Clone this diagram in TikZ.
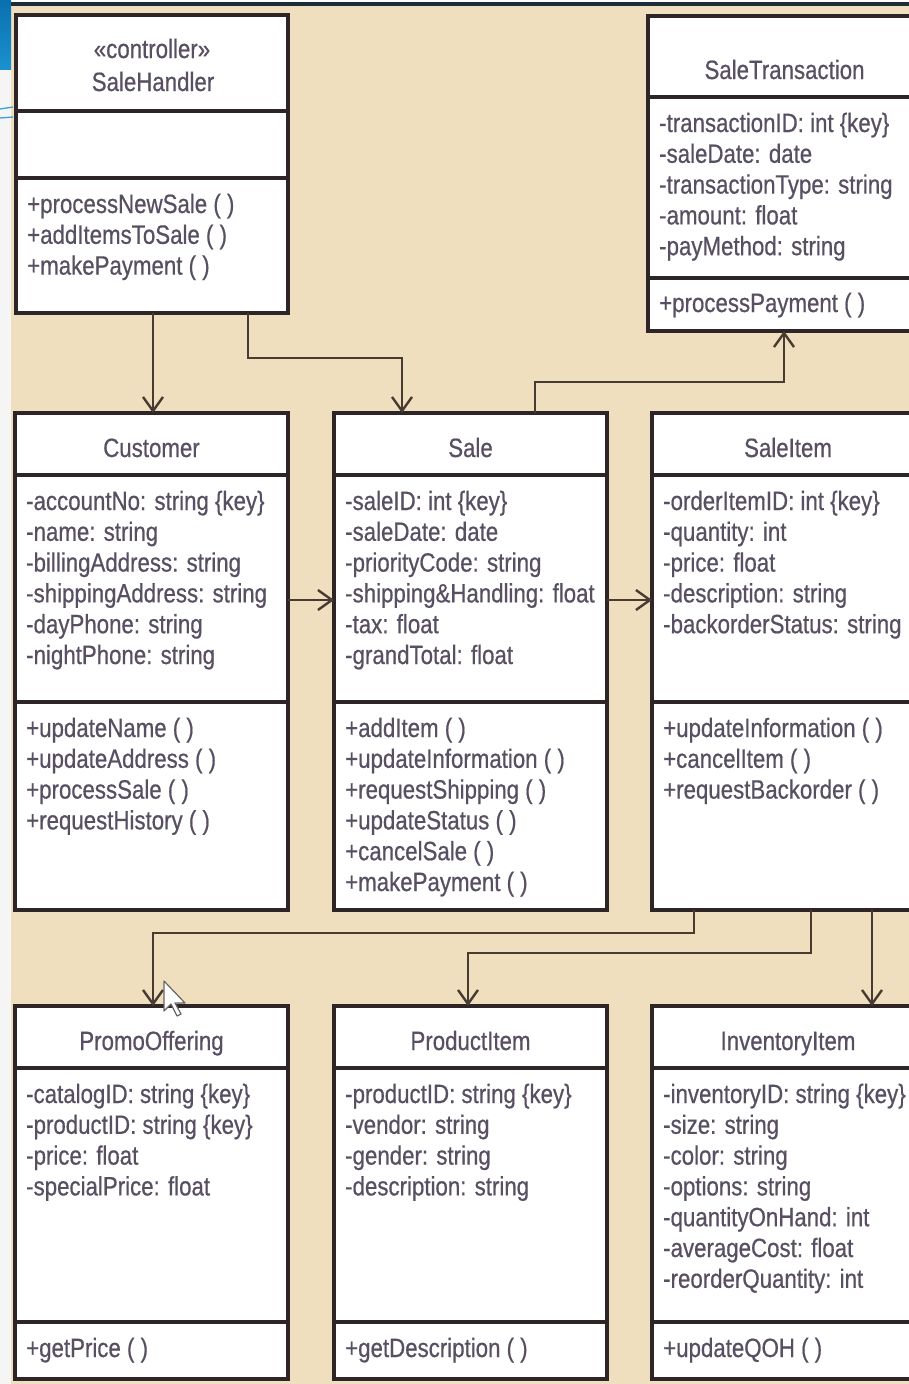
\documentclass[tikz,border=0pt]{standalone}
\usepackage{fontspec}
\setmainfont{Liberation Sans}[FakeStretch=0.84,FakeBold=0.6]
\usetikzlibrary{arrows.meta}

\definecolor{paper}{RGB}{240,223,190}
\definecolor{boxline}{RGB}{46,38,38}
\definecolor{wire}{RGB}{72,60,50}
\definecolor{ink}{RGB}{88,80,98}
\definecolor{slideblue}{RGB}{10,112,176}
\definecolor{slideblue2}{RGB}{26,146,206}
\definecolor{slideline}{RGB}{60,160,215}
\definecolor{topbar}{RGB}{28,44,56}

\newcommand\umlfont{\fontsize{26.5}{30.8}\selectfont}

% one text line per member, baselines 30.8pt apart
\newcommand\classlines[4]{%
  \foreach \t [count=\i from 0] in {#4} {\node[member] (#1-\i) at (#2,{#3+\i*30.8}) {\t};}}

% the two horizontal compartment lines of a class box
\newcommand\splitbox[3]{%
  \draw[divider] ([yshift=-#2pt]#1.north west) -- ([yshift=-#2pt]#1.north east);
  \draw[divider] ([yshift=-#3pt]#1.north west) -- ([yshift=-#3pt]#1.north east);}

\tikzset{
  classbox/.style={draw=boxline, line width=3.5pt, fill=white, rectangle,
    anchor=north west, inner sep=0pt, outer sep=0pt},
  divider/.style={draw=boxline, line width=3.5pt},
  title/.style={anchor=base, inner sep=0pt, text=ink, font=\umlfont},
  member/.style={anchor=base west, inner sep=0pt, text=ink, font=\umlfont},
  conn/.style={draw=wire, line width=2.4pt,
    -{Straight Barb[length=14pt,width=20pt]}},
}

\begin{document}
\begin{tikzpicture}[x=1pt,y=-1pt]
\useasboundingbox (0,0) rectangle (909,1384);

% backdrop
\fill[white] (0,0) rectangle (909,1384);
\fill[paper] (11,5) rectangle (909,1384);
\fill[topbar] (11,2) rectangle (909,6);
\shade[top color=slideblue, bottom color=slideblue2] (0,0) rectangle (11,70);
\fill[black!4] (0,70) rectangle (11,1384);
\draw[slideline, line width=1.3pt] (0,109) -- (13,107);
\draw[slideline, line width=1.3pt] (0,118) -- (13,117);

% class boxes
\node[classbox, minimum width=272pt, minimum height=298pt] (handler)   at (16,15) {};
\node[classbox, minimum width=273pt, minimum height=315pt] (trans)     at (648,16) {};
\node[classbox, minimum width=273pt, minimum height=497pt] (customer)  at (15,413) {};
\node[classbox, minimum width=273pt, minimum height=497pt] (sale)      at (334,413) {};
\node[classbox, minimum width=273pt, minimum height=497pt] (item)      at (652,413) {};
\node[classbox, minimum width=273pt, minimum height=373pt] (promo)     at (15,1006) {};
\node[classbox, minimum width=273pt, minimum height=373pt] (product)   at (334,1006) {};
\node[classbox, minimum width=273pt, minimum height=373pt] (inventory) at (652,1006) {};

\splitbox{handler}{96}{163}
\splitbox{trans}{81}{262}
\splitbox{customer}{62}{289}
\splitbox{sale}{62}{289}
\splitbox{item}{62}{289}
\splitbox{promo}{62}{316}
\splitbox{product}{62}{316}
\splitbox{inventory}{62}{316}

% class names
\node[title] (handler-stereo) at (152,58) {«controller»};
\node[title] (handler-name)   at (153,91) {SaleHandler};
\node[title] (trans-name)     at (784.5,79) {SaleTransaction};
\node[title] (customer-name)  at (151.5,457) {Customer};
\node[title] (sale-name)      at (470.5,457) {Sale};
\node[title] (item-name)      at (788,457) {SaleItem};
\node[title] (promo-name)     at (151.5,1050) {PromoOffering};
\node[title] (product-name)   at (470.5,1050) {ProductItem};
\node[title] (inventory-name) at (788,1050) {InventoryItem};

% attributes and operations
\classlines{handler-op}{27}{213}{+processNewSale ( ), +addItemsToSale ( ), +makePayment ( )}
\classlines{trans-at}{659}{132}{-transactionID: int \{key\}, -saleDate: date, -transactionType: string, -amount: float, -payMethod: string}
\classlines{trans-op}{659}{312}{+processPayment ( )}
\classlines{customer-at}{26}{510}{-accountNo: string \{key\}, -name: string, -billingAddress: string, -shippingAddress: string, -dayPhone: string, -nightPhone: string}
\classlines{customer-op}{26}{737}{+updateName ( ), +updateAddress ( ), +processSale ( ), +requestHistory ( )}
\classlines{sale-at}{345}{510}{-saleID: int \{key\}, -saleDate: date, -priorityCode: string, -shipping\&Handling: float, -tax: float, -grandTotal: float}
\classlines{sale-op}{345}{737}{+addItem ( ), +updateInformation ( ), +requestShipping ( ), +updateStatus ( ), +cancelSale ( ), +makePayment ( )}
\classlines{item-at}{663}{510}{-orderItemID: int \{key\}, -quantity: int, -price: float, -description: string, -backorderStatus: string}
\classlines{item-op}{663}{737}{+updateInformation ( ), +cancelItem ( ), +requestBackorder ( )}
\classlines{promo-at}{26}{1103}{-catalogID: string \{key\}, -productID: string \{key\}, -price: float, -specialPrice: float}
\classlines{promo-op}{26}{1357}{+getPrice ( )}
\classlines{product-at}{345}{1103}{-productID: string \{key\}, -vendor: string, -gender: string, -description: string}
\classlines{product-op}{345}{1357}{+getDescription ( )}
\classlines{inventory-at}{663}{1103}{-inventoryID: string \{key\}, -size: string, -color: string, -options: string, -quantityOnHand: int, -averageCost: float, -reorderQuantity: int}
\classlines{inventory-op}{663}{1357}{+updateQOH ( )}

% associations
\draw[conn] ([xshift=137pt]handler.south west) -- ([xshift=138pt]customer.north west);
\draw[conn] ([xshift=232pt]handler.south west) -- ++(0,45) -| ([xshift=68pt]sale.north west);
\draw[conn] ([xshift=201pt]sale.north west) -- ++(0,-31) -| ([xshift=136pt]trans.south west);
\draw[conn] ([yshift=-187pt]customer.north east) -- ([yshift=-187pt]sale.north west);
\draw[conn] ([yshift=-187pt]sale.north east) -- ([yshift=-187pt]item.north west);
\draw[conn] ([xshift=42pt]item.south west) -- ++(0,23) -| ([xshift=138pt]promo.north west);
\draw[conn] ([xshift=159pt]item.south west) -- ++(0,43) -| ([xshift=134pt]product.north west);
\draw[conn] ([xshift=220pt]item.south west) -- ([xshift=220pt]inventory.north west);

% mouse pointer
\draw[fill=white, draw=black!60, line width=1.2pt, line join=round]
  (164,981) -- ++(0,30) -- ++(7,-7) -- ++(6,12) -- ++(4,-2) -- ++(-6,-11) -- ++(10,0) -- cycle;
\end{tikzpicture}
\end{document}
